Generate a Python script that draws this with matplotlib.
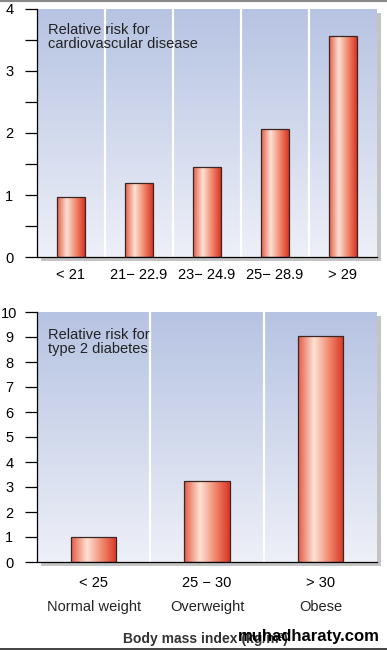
import numpy as np
import matplotlib.pyplot as plt
from matplotlib.colors import LinearSegmentedColormap
from matplotlib.patches import Rectangle
from matplotlib.lines import Line2D

plt.rcParams['font.family'] = ['Liberation Sans', 'DejaVu Sans']

# データ
cvd_labels = ['< 21', '21\u2212 22.9', '23\u2212 24.9', '25\u2212 28.9', '> 29']
cvd_risk = [0.97, 1.19, 1.45, 2.07, 3.57]

dm_labels = ['< 25', '25 \u2212 30', '> 30']
dm_names = ['Normal weight', 'Overweight', 'Obese']
dm_risk = [1.0, 3.25, 9.05]

bg_cmap = LinearSegmentedColormap.from_list('bg', ['#b6c3e2', '#eef0f8'])
bar_cmap = LinearSegmentedColormap.from_list(
    'bar', [(0, '#e45a45'), (0.35, '#fde2d4'), (0.7, '#f08368'), (1, '#d93424')])

fig = plt.figure(figsize=(3.87, 6.5), dpi=100)
ax1 = fig.add_axes([37/387, 1-257/650, 340/387, 248/650])
ax2 = fig.add_axes([37/387, 1-562/650, 340/387, 250/650])

def draw_panel(ax, values, labels, ymax, width):
    n = len(values)
    # 背景のグラデーション（上が濃い）
    grad = np.linspace(0, 1, 256).reshape(-1, 1)
    ax.imshow(grad, extent=[-0.5, n-0.5, 0, ymax], origin='upper', aspect='auto',
              cmap=bg_cmap, zorder=0)
    for b in np.arange(0.5, n-0.5, 1):
        ax.axvline(b, color='white', lw=1.6, zorder=1)
    hgrad = np.linspace(0, 1, 256).reshape(1, -1)
    bars = ax.bar(range(n), values, width=width, facecolor='none',
                  edgecolor='#3a2622', lw=0.9, zorder=3)
    for bar in bars:
        x0 = bar.get_x()
        im = ax.imshow(hgrad, extent=[x0, x0+bar.get_width(), 0, bar.get_height()],
                       aspect='auto', cmap=bar_cmap, zorder=2)
        im.set_clip_path(bar)
    ax.set_xlim(-0.5, n-0.5)
    ax.set_ylim(0, ymax)
    ax.set_xticks(range(n))
    ax.set_xticklabels(labels, fontsize=10.5)
    ax.tick_params(axis='x', length=0, pad=8)
    ax.tick_params(axis='y', which='both', direction='out', length=9, width=0.9,
                   labelsize=10.5, pad=11)
    for s in ['top', 'right']:
        ax.spines[s].set_visible(False)
    ax.spines['left'].set_linewidth(0.9)
    ax.spines['bottom'].set_linewidth(0.9)
    # 影
    pos = ax.get_position()
    dx, dy = 4/387, 4/650
    fig.patches.append(Rectangle((pos.x0+dx, pos.y0-dy), pos.width, pos.height,
                                 transform=fig.transFigure, facecolor='#c4c4c4',
                                 edgecolor='none', zorder=-1))

draw_panel(ax1, cvd_risk, cvd_labels, 4, 0.41)
ax1.set_yticks([0, 1, 2, 3, 4])
ax1.set_yticks(np.arange(0.5, 4, 1), minor=True)
for lab in ax1.get_yticklabels():
    lab.set_horizontalalignment('center')
ax1.text(0.032, 0.944, 'Relative risk for\ncardiovascular disease', transform=ax1.transAxes,
         va='top', ha='left', fontsize=10.5, color='#222222', linespacing=1.0, zorder=5)

draw_panel(ax2, dm_risk, dm_labels, 10, 0.4)
ax2.set_yticks(range(11))
for lab in ax2.get_yticklabels():
    lab.set_horizontalalignment('center')
ax2.tick_params(axis='x', pad=10)
ax2.text(0.032, 0.936, 'Relative risk for\ntype 2 diabetes', transform=ax2.transAxes,
         va='top', ha='left', fontsize=10.5, color='#222222', linespacing=1.0, zorder=5)
for i, name in enumerate(dm_names):
    ax2.text(i, -0.18, name, transform=ax2.get_xaxis_transform(), ha='center', va='center',
             fontsize=10.5, color='#222222')

fig.text(205/387, 1-639/650, 'Body mass index (kg/m\u00b2)', ha='center', va='center',
         fontsize=10, fontweight='bold', color='#333333')
fig.text(309/387, 1-637/650, 'muhadharaty.com', ha='center', va='center',
         fontsize=12, fontweight='bold', color='black')

fig.lines.append(Line2D([0, 1], [1-648.5/650]*2, transform=fig.transFigure, color='#222222', lw=1.2))
fig.lines.append(Line2D([0, 1], [1-0.5/650]*2, transform=fig.transFigure, color='#888888', lw=1.5))

fig.savefig('out.png', dpi=100)
